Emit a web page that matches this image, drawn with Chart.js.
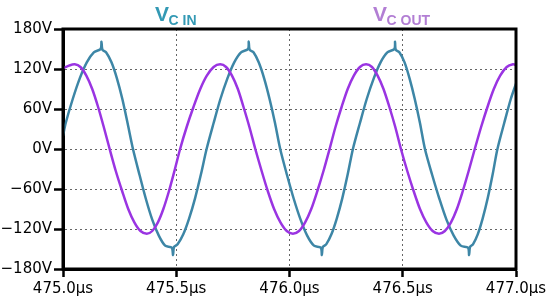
<!DOCTYPE html>
<html><head><meta charset="utf-8">
<script src="https://cdn.jsdelivr.net/npm/chart.js@4.4.1/dist/chart.umd.min.js"></script>
<style>
html,body{margin:0;padding:0;background:#fff;}
canvas{display:block;}
</style></head>
<body>
<canvas id="c" width="550" height="304"></canvas>
<script>
// ---- data (time in µs, voltage in V) ----
const timeIn = [475.000,475.012,475.043,475.074,475.105,475.136,475.166,475.170,475.174,475.190,475.214,475.238,475.262,475.285,475.309,475.338,475.366,475.394,475.423,475.451,475.480,475.486,475.490,475.506,475.531,475.557,475.583,475.609,475.634,475.665,475.695,475.726,475.756,475.786,475.817,475.820,475.824,475.841,475.864,475.888,475.912,475.936,475.959,475.989,476.019,476.049,476.078,476.108,476.138,476.143,476.147,476.162,476.185,476.209,476.233,476.257,476.280,476.311,476.341,476.372,476.402,476.432,476.463,476.466,476.469,476.485,476.508,476.530,476.553,476.576,476.598,476.630,476.662,476.693,476.725,476.756,476.788,476.793,476.797,476.810,476.831,476.853,476.875,476.897,476.918,476.948,476.977,477.000];
const vIn = [20,39,75,106,130,145,150,161,149,145,130,106,75,39,0,-39,-75,-106,-130,-145,-148,-159,-147,-143,-128,-104,-74,-38,0,39,75,106,130,145,150,161,149,145,130,106,75,39,0,-39,-75,-106,-130,-145,-148,-159,-147,-143,-128,-104,-74,-38,0,39,75,106,130,145,150,161,149,145,130,106,75,39,0,-39,-75,-106,-130,-145,-148,-159,-147,-143,-128,-104,-74,-38,0,39,75,98];
const timeOut = [475.000,475.026,475.052,475.077,475.103,475.129,475.155,475.180,475.206,475.233,475.261,475.288,475.315,475.342,475.370,475.394,475.419,475.443,475.468,475.492,475.517,475.546,475.576,475.606,475.635,475.665,475.694,475.720,475.746,475.772,475.797,475.823,475.849,475.877,475.904,475.932,475.960,475.988,476.015,476.042,476.069,476.096,476.123,476.150,476.177,476.203,476.230,476.257,476.284,476.311,476.338,476.364,476.389,476.415,476.441,476.467,476.492,476.520,476.548,476.576,476.604,476.632,476.660,476.686,476.713,476.739,476.765,476.791,476.818,476.846,476.874,476.902,476.930,476.959,476.987,477.000];
const vOut = [121,125,127,123,110,90,63,33,0,-33,-63,-90,-110,-123,-127,-123,-110,-90,-63,-33,0,33,63,90,110,123,127,123,110,90,63,33,0,-33,-63,-90,-110,-123,-127,-123,-110,-90,-63,-33,0,33,63,90,110,123,127,123,110,90,63,33,0,-33,-63,-90,-110,-123,-127,-123,-110,-90,-63,-33,0,33,63,90,110,123,127,126];
const xTicks = [475.0,475.5,476.0,476.5,477.0];
const yTicks = [-180,-120,-60,0,60,120,180];
const seriesNames = ['V_C IN','V_C OUT'];

const TEAL = '#3d86a6', PURPLE = '#9a34e2';
const tickFont = {family:'"DejaVu Sans", Verdana, sans-serif', size:15};

const titles = {
  id:'titles',
  afterDraw(chart){
    const ctx = chart.ctx, a = chart.chartArea;
    ctx.save();
    ctx.strokeStyle = '#000'; ctx.lineWidth = 3;
    ctx.strokeRect(a.left, a.top, a.right-a.left, a.bottom-a.top);
    const items = [{x:155, main:'V', sub:'C IN', color:'#3399b4'},{x:373, main:'V', sub:'C OUT', color:'#b27ed4'}];
    items.forEach(it=>{
      ctx.fillStyle = it.color;
      ctx.textBaseline = 'alphabetic'; ctx.textAlign='left';
      ctx.font = 'bold 21px "Liberation Sans", Arial, sans-serif';
      ctx.fillText(it.main, it.x, 21);
      const w = ctx.measureText(it.main).width;
      ctx.font = 'bold 14px "Liberation Sans", Arial, sans-serif';
      ctx.fillText(it.sub, it.x + w - 0.5, 24.5);
    });
    ctx.restore();
  }
};

new Chart(document.getElementById('c'), {
  type:'line',
  data:{datasets:[
    {label:seriesNames[1], data:timeOut.map((t,i)=>({x:t,y:vOut[i]})), borderColor:PURPLE, borderWidth:2.5, pointRadius:0, tension:0.3, fill:false},
    {label:seriesNames[0], data:timeIn.map((t,i)=>({x:t,y:vIn[i]})), borderColor:TEAL, borderWidth:2.5, pointRadius:0, tension:0.3, fill:false}
  ]},
  options:{
    responsive:false, animation:false, devicePixelRatio:1,
    layout:{padding:{top:29,right:34,left:0,bottom:0}},
    plugins:{legend:{display:false}, tooltip:{enabled:false}},
    scales:{
      x:{type:'linear', min:475, max:477,
        afterBuildTicks(s){ s.ticks = xTicks.map(v=>({value:v})); },
        afterFit(s){ s.height = 35; },
        ticks:{font:tickFont, color:'#000', padding:3, maxRotation:0, autoSkip:false,
          callback:v=>Number(v).toFixed(1)+'µs'},
        grid:{color:'#666', lineWidth:1, tickColor:'#000', tickWidth:2.5, tickLength:8},
        border:{display:true, color:'#000', width:3, dash:[2,3]}
      },
      y:{type:'linear', min:-180, max:180,
        afterBuildTicks(s){ s.ticks = yTicks.map(v=>({value:v})); },
        afterFit(s){ s.width = 63; },
        ticks:{font:tickFont, color:'#000', padding:2, autoSkip:false,
          callback:v=>(v<0?'\u2212'+Math.abs(v):v)+'V'},
        grid:{color:'#666', lineWidth:1, tickColor:'#000', tickWidth:2.5, tickLength:9},
        border:{display:true, color:'#000', width:3, dash:[2,3]}
      }
    }
  },
  plugins:[titles]
});
</script>
</body></html>
